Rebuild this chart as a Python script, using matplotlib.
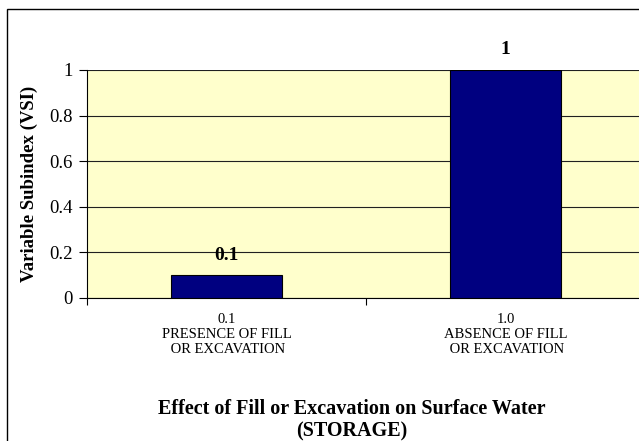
import matplotlib
matplotlib.use('Agg')
import matplotlib.pyplot as plt
from matplotlib.patches import Rectangle

# data
categories = ["0.1\nPRESENCE OF FILL\n OR EXCAVATION", "1.0\nABSENCE OF FILL\n OR EXCAVATION"]
vsi = [0.1, 1.0]
bar_labels = ["0.1", "1"]
yticks = [0, 0.2, 0.4, 0.6, 0.8, 1.0]
ytick_labels = ["0", "0.2", "0.4", "0.6", "0.8", "1"]

plt.rcParams['font.family'] = ['Liberation Serif', 'DejaVu Serif']

fig = plt.figure(figsize=(6.39, 4.41), dpi=100)
# outer chart border (left/top edges only visible)
fig.patches.append(Rectangle((7 / 639, -0.05), 1.1, 1 - 9 / 441 + 0.05,
                             transform=fig.transFigure, fill=False,
                             edgecolor='black', linewidth=1.0))

ax = fig.add_axes([87 / 639, 1 - 298 / 441, 558 / 639, 228 / 441])
ax.set_facecolor('#FFFFCC')

x = range(len(vsi))
ax.bar(x, vsi, width=0.4, color='#000080', edgecolor='black', linewidth=0.8, zorder=3)
for xi, v, lab in zip(x, vsi, bar_labels):
    ax.text(xi, v + 0.088, lab, ha='center', va='center', fontsize=14, fontweight='bold')

ax.set_xlim(-0.5, 1.5)
ax.set_ylim(0, 1)
ax.set_yticks(yticks)
ax.set_yticklabels(ytick_labels, fontsize=13.5)
ax.yaxis.grid(True, color='#202020', linewidth=0.8, zorder=0)
ax.set_axisbelow(True)
ax.tick_params(axis='y', direction='out', length=6, width=0.8, pad=4)

ax.set_xticks(list(x))
ax.set_xticklabels(categories, fontsize=10.5, linespacing=1.2)
ax.set_xticks([-0.5, 0.5, 1.5], minor=True)
ax.tick_params(axis='x', which='major', length=0, pad=11)
ax.tick_params(axis='x', which='minor', direction='out', length=5, width=0.8)

for side in ['top', 'right']:
    ax.spines[side].set_visible(False)
ax.spines['left'].set_linewidth(0.8)
ax.spines['bottom'].set_linewidth(0.8)

ax.set_ylabel("Variable Subindex (VSI)", fontsize=13.5, fontweight='bold')
ax.yaxis.set_label_coords(-0.088, 0.5)
fig.text(352 / 639, 1 - 420 / 441, "Effect of Fill or Excavation on Surface Water\n(STORAGE)",
         ha='center', va='center', fontsize=14.5, fontweight='bold', linespacing=1.15)

plt.savefig('out.png', dpi=100)
plt.close()
